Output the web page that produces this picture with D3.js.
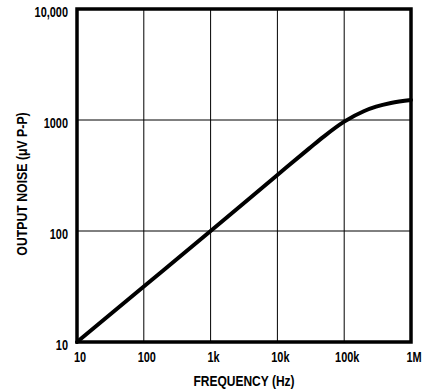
<!DOCTYPE html>
<html lang="en">
<head>
<meta charset="utf-8">
<title>Output Noise vs Frequency</title>
<script src="https://d3js.org/d3.v7.min.js"></script>
<style>
  body { margin: 0; background: #fff; }
  text { font-family: "Liberation Sans", Arial, sans-serif; font-weight: bold; fill: #000; font-size: 14px; }
  .title { font-size: 15px; }
</style>
</head>
<body>
<script>
// curve
var freq  = [10, 100, 1000, 10000, 30000, 50000, 100000, 200000, 300000, 500000, 1000000];
var noise = [10, 31.6, 100, 320, 555, 713, 966, 1205, 1318, 1422, 1514];

var xTicks = [10, 100, 1000, 10000, 100000, 1000000];
var xLabels = ["10", "100", "1k", "10k", "100k", "1M"];
var yTicks = [10, 100, 1000, 10000];
var yLabels = ["10", "100", "1000", "10,000"];

var w = 430, h = 391;
var mLeft = 77, mRight = 411, mTop = 9, mBottom = 342;
var squeeze = 0.78; // narrow the bold face like the condensed original

var svg = d3.select("body").append("svg")
  .attr("width", w)
  .attr("height", h);

var x = d3.scaleLog().domain([10, 1e6]).range([mLeft, mRight]);
var y = d3.scaleLog().domain([10, 1e4]).range([mBottom, mTop]);

// grid
svg.append("g").selectAll("line")
  .data(xTicks.slice(1, -1))
  .enter().append("line")
  .attr("x1", d => x(d)).attr("x2", d => x(d))
  .attr("y1", mTop).attr("y2", mBottom)
  .attr("stroke", "#000").attr("stroke-width", 1);

svg.append("g").selectAll("line")
  .data(yTicks.slice(1, -1))
  .enter().append("line")
  .attr("x1", mLeft).attr("x2", mRight)
  .attr("y1", d => y(d)).attr("y2", d => y(d))
  .attr("stroke", "#000").attr("stroke-width", 1);

// frame
svg.append("rect")
  .attr("x", mLeft).attr("y", mTop)
  .attr("width", mRight - mLeft).attr("height", mBottom - mTop)
  .attr("fill", "none").attr("stroke", "#000").attr("stroke-width", 3.5);

// curve
var line = d3.line()
  .x((d, i) => x(freq[i]))
  .y(d => y(d))
  .curve(d3.curveMonotoneX);

svg.append("path")
  .datum(noise)
  .attr("d", line)
  .attr("fill", "none")
  .attr("stroke", "#000")
  .attr("stroke-width", 4)
  .attr("stroke-linecap", "round");

// tick labels (squeezed horizontally around their anchor point)
svg.append("g").selectAll("text")
  .data(xTicks)
  .enter().append("text")
  .attr("transform", d => "translate(" + (x(d) + 3) + ",362) scale(" + squeeze + ",1)")
  .attr("text-anchor", "middle")
  .text((d, i) => xLabels[i]);

svg.append("g").selectAll("text")
  .data(yTicks)
  .enter().append("text")
  .attr("transform", d => "translate(68," + (y(d) + 8) + ") scale(" + squeeze + ",1)")
  .attr("text-anchor", "end")
  .text((d, i) => yLabels[i]);

// axis titles
svg.append("text")
  .attr("class", "title")
  .attr("transform", "translate(244,386) scale(0.8,1)")
  .attr("text-anchor", "middle")
  .text("FREQUENCY (Hz)");

svg.append("text")
  .attr("class", "title")
  .attr("transform", "translate(27,184) rotate(-90) scale(0.82,1)")
  .attr("text-anchor", "middle")
  .text("OUTPUT NOISE (μV P-P)");
</script>
</body>
</html>
